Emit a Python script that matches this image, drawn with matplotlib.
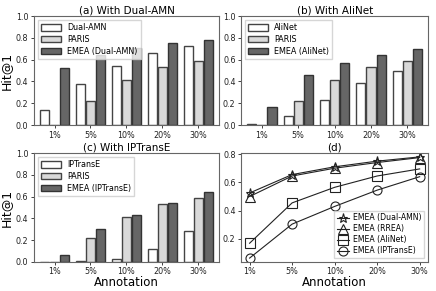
import matplotlib.pyplot as plt
import numpy as np

annot = ["1%", "5%", "10%", "20%", "30%"]

# Hit@1 values
paris = [0.0, 0.22, 0.415, 0.535, 0.59]

dual_amn = [0.14, 0.38, 0.54, 0.665, 0.725]
emea_dual = [0.525, 0.645, 0.71, 0.755, 0.78]

alinet = [0.01, 0.085, 0.23, 0.385, 0.495]
emea_alinet = [0.17, 0.455, 0.565, 0.645, 0.695]

iptranse = [0.0, 0.01, 0.03, 0.12, 0.28]
emea_iptranse = [0.065, 0.305, 0.43, 0.545, 0.64]

emea_dual_d = [0.525, 0.655, 0.71, 0.75, 0.78]
emea_rrea = [0.50, 0.645, 0.70, 0.74, 0.775]

plt.rcParams['font.family'] = 'DejaVu Sans'
fig = plt.figure(figsize=(4.36, 2.91), dpi=100)

ax_a = fig.add_axes([0.078, 0.570, 0.424, 0.375])
ax_b = fig.add_axes([0.553, 0.570, 0.429, 0.375])
ax_c = fig.add_axes([0.078, 0.100, 0.424, 0.374])
ax_d = fig.add_axes([0.553, 0.100, 0.429, 0.374])

x = np.arange(len(annot))
w = 0.25
off = 0.28


def style(ax):
    for s in ax.spines.values():
        s.set_color('#666666')
        s.set_linewidth(0.8)
    ax.tick_params(labelsize=5.8, length=2.5, width=0.6, pad=1.5, colors='#222222')
    ax.set_xticks(x)
    ax.set_xticklabels(annot)


def bars(ax, base, emea, names, title, ylabel, xlabel):
    ax.bar(x - off, base, w, color='white', edgecolor='#444444', linewidth=1.0, label=names[0])
    ax.bar(x, paris, w, color='#d9d9d9', edgecolor='#444444', linewidth=1.0, label=names[1])
    ax.bar(x + off, emea, w, color='#666666', edgecolor='#333333', linewidth=1.0, label=names[2])
    ax.set_ylim(0, 1.0)
    ax.set_yticks([0.0, 0.2, 0.4, 0.6, 0.8, 1.0])
    ax.set_xlim(-0.57, 4.57)
    style(ax)
    ax.set_title(title, fontsize=7.5, pad=2)
    if ylabel:
        ax.set_ylabel("Hit@1", fontsize=9, labelpad=2)
    if xlabel:
        ax.set_xlabel("Annotation", fontsize=8.5, labelpad=0)
    ax.legend(loc='upper left', fontsize=5.8, frameon=True, fancybox=False,
              edgecolor='#cccccc', handlelength=2.4, handleheight=0.8,
              borderpad=0.4, labelspacing=0.35)


bars(ax_a, dual_amn, emea_dual, ["Dual-AMN", "PARIS", "EMEA (Dual-AMN)"],
     "(a) With Dual-AMN", True, False)
bars(ax_b, alinet, emea_alinet, ["AliNet", "PARIS", "EMEA (AliNet)"],
     "(b) With AliNet", False, False)
bars(ax_c, iptranse, emea_iptranse, ["IPTransE", "PARIS", "EMEA (IPTransE)"],
     "(c) With IPTransE", True, True)

kw = dict(color='#222222', linewidth=0.8, markersize=6.5, fillstyle='none',
          markeredgewidth=0.8)
ax_d.plot(x, emea_dual_d, marker='*', label="EMEA (Dual-AMN)", **kw)
ax_d.plot(x, emea_rrea, marker='^', label="EMEA (RREA)", **kw)
ax_d.plot(x, emea_alinet, marker='s', label="EMEA (AliNet)", **kw)
ax_d.plot(x, emea_iptranse, marker='o', label="EMEA (IPTransE)", **kw)
ax_d.set_xlim(-0.2, 4.2)
ax_d.set_ylim(0.038, 0.807)
ax_d.set_yticks([0.2, 0.4, 0.6, 0.8])
style(ax_d)
ax_d.set_title("(d)", fontsize=7.5, pad=2)
ax_d.set_xlabel("Annotation", fontsize=8.5, labelpad=0)
ax_d.legend(loc='lower right', fontsize=5.6, frameon=True, fancybox=False,
            edgecolor='#cccccc', handlelength=1.6, borderpad=0.35,
            labelspacing=0.25, handletextpad=0.5)

fig.savefig("out.png", dpi=100)
